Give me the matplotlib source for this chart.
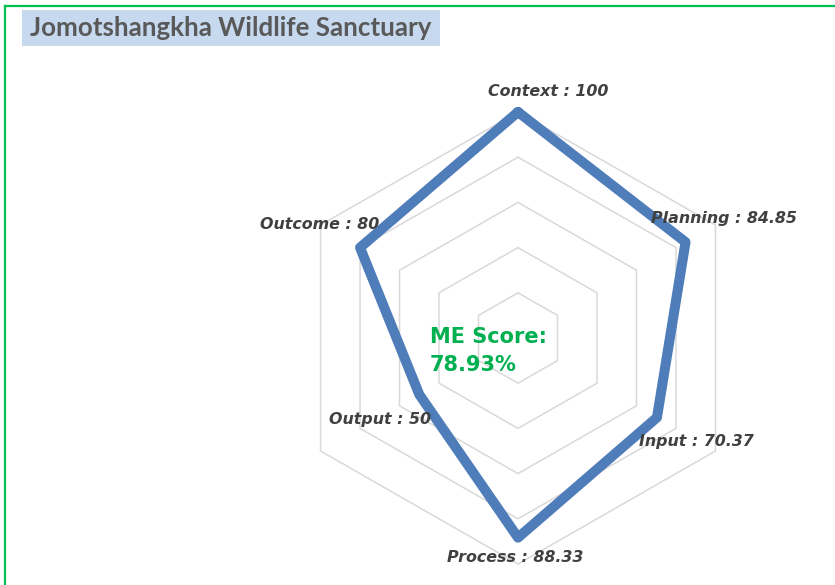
import numpy as np
import matplotlib
matplotlib.use("Agg")
import matplotlib.pyplot as plt
from matplotlib.patches import Rectangle

# data
categories = ["Context", "Planning", "Input", "Process", "Output", "Outcome"]
values = [100, 84.85, 70.37, 88.33, 50, 80]
value_labels = ["100", "84.85", "70.37", "88.33", "50", "80"]
rings = [20, 40, 60, 80, 100]
title = "Jomotshangkha Wildlife Sanctuary"
score_text = "ME Score:\n78.93%"

# label offsets in pixels (dx, dy) from each point
label_offsets = [(30, 20), (38, 24), (39, -24), (-3, -20), (-39, -25), (-40, 23)]

W, H = 835, 585
fig = plt.figure(figsize=(W / 100, H / 100), dpi=100)

# axes placed so the chart centre sits at (518, 338) px
cx, cy = 518, 338
sx, sy = 2.28, 2.26  # px per unit
xl = (-130, 130)
yl = (-105, 130)
left = cx + xl[0] * sx
right = cx + xl[1] * sx
top = cy - yl[1] * sy
bottom = cy - yl[0] * sy
ax = fig.add_axes([left / W, 1 - bottom / H, (right - left) / W, (bottom - top) / H])
ax.set_xlim(*xl)
ax.set_ylim(*yl)
ax.axis("off")

n = len(categories)
ang = np.arange(n) * 2 * np.pi / n
ang_c = np.append(ang, ang[0])

for r in rings:
    ax.plot(r * np.sin(ang_c), r * np.cos(ang_c), color="#D9D9D9", lw=1.1, zorder=1)

v = np.array(values + [values[0]])
ax.plot(v * np.sin(ang_c), v * np.cos(ang_c), color="#4F7DBA", lw=7.2,
        solid_joinstyle="round", solid_capstyle="round", zorder=3)

for i, cat in enumerate(categories):
    x = values[i] * np.sin(ang[i])
    y = values[i] * np.cos(ang[i])
    ax.annotate(f"{cat} : {value_labels[i]}", (x, y), xytext=label_offsets[i],
                textcoords="offset pixels", ha="center", va="center",
                fontsize=11.4, fontweight="bold", fontstyle="italic",
                color="#404040", zorder=4, annotation_clip=False)

# title box
fig.patches.append(Rectangle((22 / W, 1 - 45.5 / H), (440 - 22) / W, 36 / H,
                             transform=fig.transFigure, facecolor="#C6D9EE",
                             edgecolor="none", zorder=0))
fig.text(30 / W, 1 - 28 / H, title, fontsize=18.6, fontweight="bold",
         color="#595959", ha="left", va="center", family="Lato")

# score text
fig.text(430 / W, 1 - 351 / H, score_text, fontsize=15, fontweight="bold",
         color="#00B050", ha="left", va="center", linespacing=1.5)

# green frame
fig.add_artist(plt.Line2D([5 / W, 5 / W], [0, 1 - 6 / H], color="#00C050", lw=1.6,
                          transform=fig.transFigure))
fig.add_artist(plt.Line2D([5 / W, 1], [1 - 6 / H, 1 - 6 / H], color="#00C050", lw=1.6,
                          transform=fig.transFigure))

fig.savefig("out.png", dpi=100)
